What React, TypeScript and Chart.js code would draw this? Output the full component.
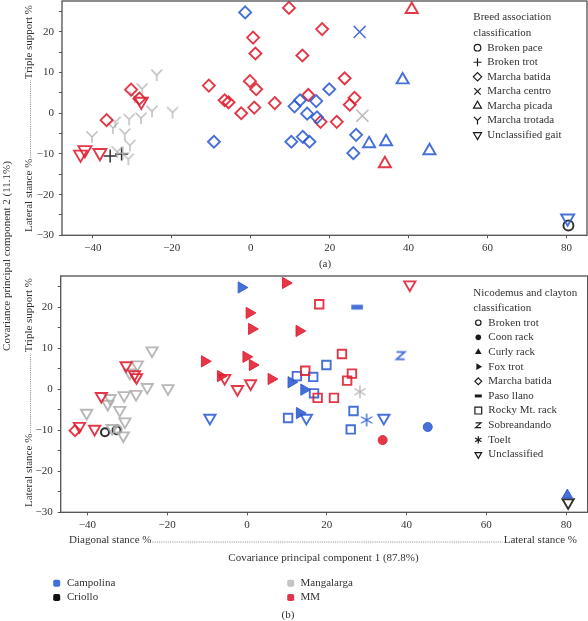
import React, { useEffect, useRef } from "react";
import { Chart, registerables } from "chart.js";
Chart.register(...registerables);

const FONT_FAMILY = '"Liberation Serif", "Times New Roman", serif';
const TEXT_COLOR = "#333333";

// ---------------- data (PCA scores, one entry per horse) ----------------
const pcX = [-1.4, 9.7, 18.1, 27.6, 40.8, 0.6, 1.2, 13.1, 38.5, 23.8, -0.2, 1.4, 19.9, 14.6, 16.6, 12.5, 11.1, 26.3, 25.1, 28.3,
  -6.6, -5.6, -2.4, 0.9, 6.1, 14.3, 16.8, 17.7, 21.8, 26.7, 10.3, 13.2, 14.9, 30.0, 34.3, 26.0, 34.0, 45.3, -10.6, -9.3,
  80.3, 80.5, -30.3, -28.2, -27.7, -36.5, -42.0, -43.1, -38.2, -23.8, -27.5, -29.4, -25.0, -19.8, -27.8, -30.8, -34.3, -34.9,
  -31.9, -40.2, -30.6, -33.8, -31.0, -32.4, -35.6, -32.7];
const pcY = [24.8, 25.9, 20.7, 20.0, 25.5, 18.6, 14.7, 14.2, 8.2, 8.6, 7.9, 5.9, 5.9, 4.5, 3.0, 3.2, 1.7, 3.8, 2.1, -0.6,
  3.2, 2.7, 0.0, 1.4, 2.5, -0.1, -1.0, -2.1, -2.1, -5.3, -7.0, -5.8, -7.0, -7.5, -7.0, -9.8, -12.4, -9.2, 6.8, -7.0,
  -25.8, -27.6, 5.8, 3.6, 2.9, -1.7, -9.0, -10.1, -9.7, 9.4, 6.0, 4.0, 0.5, 0.2, -1.2, -1.5, -2.2, -3.6,
  -5.1, -5.8, -7.9, -9.5, -11.3, -9.8, -10.5, -10.0];
// C = Campolina, K = Criollo, G = Mangalarga, M = MM
const breed = ["C", "M", "M", "C", "M", "M", "M", "M", "C", "M", "M", "M", "C", "M", "C", "C", "C", "M", "M", "G",
  "M", "M", "M", "M", "M", "C", "C", "M", "M", "C", "C", "C", "C", "C", "C", "C", "M", "C", "M", "C",
  "C", "K", "M", "M", "M", "M", "M", "M", "M", "G", "G", "G", "G", "G", "G", "G", "G", "G",
  "G", "G", "G", "G", "G", "G", "K", "K"];
const gaitBreedAssoc = ["MB", "MB", "MB", "MC", "MP", "MB", "MB", "MB", "MP", "MB", "MB", "MB", "MB", "MB", "MB", "MB", "MB", "MB", "MB", "MC",
  "MB", "MB", "MB", "MB", "MB", "MB", "MB", "MB", "MB", "MB", "MB", "MB", "MB", "MP", "MP", "MB", "MP", "MP", "MB", "MB",
  "UG", "BP", "MB", "MB", "UG", "MB", "UG", "UG", "UG", "MT", "MT", "MT", "MT", "MT", "MT", "MT", "MT", "MT",
  "MT", "MT", "MT", "MT", "MT", "BT", "BT", "BT"];
const gaitNicodemus = ["FT", "FT", "RM", "PL", "UN", "FT", "FT", "FT", "SO", "RM", "FT", "FT", "RM", "RM", "RM", "RM", "FT", "RM", "RM", "TO",
  "FT", "UN", "UN", "UN", "FT", "FT", "RM", "RM", "RM", "RM", "RM", "FT", "UN", "TO", "UN", "RM", "CR", "CR", "FT", "UN",
  "CU", "UN", "UN", "UN", "UN", "UN", "UN", "MB", "UN", "UN", "UN", "UN", "UN", "UN", "UN", "UN", "UN", "UN",
  "UN", "UN", "UN", "UN", "UN", "BT", "BT", "BT"];

const breedCodes = ["C", "K", "G", "M"];
const breedLabels = ["Campolina", "Criollo", "Mangalarga", "MM"];
const breedAssocCodes = ["BP", "BT", "MB", "MC", "MP", "MT", "UG"];
const breedAssocLabels = ["Broken pace", "Broken trot", "Marcha batida", "Marcha centro", "Marcha picada", "Marcha trotada", "Unclassified gait"];
const nicodemusCodes = ["BT", "CR", "CU", "FT", "MB", "PL", "RM", "SO", "TO", "UN"];
const nicodemusLabels = ["Broken trot", "Coon rack", "Curly rack", "Fox trot", "Marcha batida", "Paso llano", "Rocky Mt. rack", "Sobreandando", "Toelt", "Unclassified"];

const xTickValues = [-40, -20, 0, 20, 40, 60, 80];
const yTickValues = [-30, -25, -20, -15, -10, -5, 0, 5, 10, 15, 20, 25];

// ---------------- styles ----------------
const breedColor: Record<string, string> = {
  C: "rgba(44,92,210,0.88)",
  K: "rgba(25,25,25,0.9)",
  G: "rgba(172,172,172,0.85)",
  M: "rgba(224,28,48,0.88)",
};
const swatchColor: Record<string, string> = { C: "#3f70d9", K: "#111111", G: "#c4c4c4", M: "#e7334a" };

type Spec = { builtin?: string; img?: string; r: number; rot?: number; fill?: boolean; lw: number; legend: string; ls: number };
const stylesA: Record<string, Spec> = {
  BP: { builtin: "circle", r: 5, lw: 1.9, legend: "circle", ls: 3.3 },
  BT: { builtin: "cross", r: 6.5, lw: 1.5, legend: "plus", ls: 4 },
  MB: { builtin: "rectRot", r: 6, lw: 1.9, legend: "diamond", ls: 4.2 },
  MC: { builtin: "crossRot", r: 8.5, lw: 1.5, legend: "x", ls: 3.2 },
  MP: { builtin: "triangle", r: 7, lw: 1.9, legend: "tri", ls: 4.6 },
  MT: { img: "Y", r: 5.5, lw: 1.4, legend: "Y", ls: 3.6 },
  UG: { builtin: "triangle", rot: 180, r: 7.5, lw: 1.9, legend: "triD", ls: 4.6 },
};
const stylesB: Record<string, Spec> = {
  BT: { builtin: "circle", r: 4, lw: 2, legend: "circle", ls: 2.7 },
  CR: { builtin: "circle", r: 4.5, lw: 1, fill: true, legend: "dot", ls: 2.8 },
  CU: { builtin: "triangle", r: 6, lw: 1, fill: true, legend: "triF", ls: 3.8 },
  FT: { builtin: "triangle", rot: 90, r: 6.5, lw: 1, fill: true, legend: "triR", ls: 3.8 },
  MB: { builtin: "rectRot", r: 5.5, lw: 1.9, legend: "diamond", ls: 3.4 },
  PL: { img: "dash", r: 5.8, lw: 1, legend: "dash", ls: 3.5 },
  RM: { builtin: "rect", r: 6, lw: 1.9, legend: "square", ls: 3.4 },
  SO: { img: "Z", r: 4.8, lw: 1.8, legend: "Z", ls: 3.2 },
  TO: { img: "star", r: 6.5, lw: 1.4, legend: "star", ls: 3.6 },
  UN: { builtin: "triangle", rot: 180, r: 6.5, lw: 1.9, legend: "triD", ls: 3.8 },
};

function drawShape(ctx: CanvasRenderingContext2D, kind: string, x: number, y: number, s: number, color: string, lw: number) {
  ctx.save();
  ctx.strokeStyle = color;
  ctx.fillStyle = color;
  ctx.lineWidth = lw;
  ctx.lineJoin = "miter";
  ctx.beginPath();
  const h = 0.866 * s;
  switch (kind) {
    case "circle": ctx.arc(x, y, s, 0, Math.PI * 2); ctx.stroke(); break;
    case "dot": ctx.arc(x, y, s, 0, Math.PI * 2); ctx.fill(); break;
    case "plus": ctx.moveTo(x - s, y); ctx.lineTo(x + s, y); ctx.moveTo(x, y - s); ctx.lineTo(x, y + s); ctx.stroke(); break;
    case "x": ctx.moveTo(x - s, y - s); ctx.lineTo(x + s, y + s); ctx.moveTo(x + s, y - s); ctx.lineTo(x - s, y + s); ctx.stroke(); break;
    case "diamond": ctx.moveTo(x, y - s); ctx.lineTo(x + s, y); ctx.lineTo(x, y + s); ctx.lineTo(x - s, y); ctx.closePath(); ctx.stroke(); break;
    case "tri": ctx.moveTo(x, y - s); ctx.lineTo(x + h, y + s / 2); ctx.lineTo(x - h, y + s / 2); ctx.closePath(); ctx.stroke(); break;
    case "triF": ctx.moveTo(x, y - s); ctx.lineTo(x + h, y + s / 2); ctx.lineTo(x - h, y + s / 2); ctx.closePath(); ctx.fill(); break;
    case "triD": ctx.moveTo(x, y + s); ctx.lineTo(x + h, y - s / 2); ctx.lineTo(x - h, y - s / 2); ctx.closePath(); ctx.stroke(); break;
    case "triR": ctx.moveTo(x + s, y); ctx.lineTo(x - s / 2, y - h); ctx.lineTo(x - s / 2, y + h); ctx.closePath(); ctx.fill(); break;
    case "Y":
      ctx.moveTo(x - s, y - s); ctx.lineTo(x, y); ctx.lineTo(x + s, y - s);
      ctx.moveTo(x, y); ctx.lineTo(x, y + s * 1.1); ctx.stroke(); break;
    case "dash": ctx.fillRect(x - s, y - s * 0.42, 2 * s, s * 0.84); break;
    case "square": ctx.rect(x - s, y - s, 2 * s, 2 * s); ctx.stroke(); break;
    case "Z":
      ctx.moveTo(x - 0.85 * s, y - 0.75 * s); ctx.lineTo(x + 0.85 * s, y - 0.75 * s);
      ctx.lineTo(x - 0.85 * s, y + 0.75 * s); ctx.lineTo(x + 0.85 * s, y + 0.75 * s); ctx.stroke(); break;
    case "star":
      for (const a of [90, 30, 150]) {
        const r = (a * Math.PI) / 180;
        ctx.moveTo(x - Math.cos(r) * s, y - Math.sin(r) * s);
        ctx.lineTo(x + Math.cos(r) * s, y + Math.sin(r) * s);
      }
      ctx.stroke(); break;
  }
  ctx.restore();
}

function makeImage(kind: string, color: string, s: number, lw: number) {
  const half = Math.ceil(s + lw + 1);
  const c = document.createElement("canvas");
  c.width = half * 2;
  c.height = half * 2;
  const g = c.getContext("2d") as CanvasRenderingContext2D;
  drawShape(g, kind, half, half, s, color, lw);
  return c;
}

function buildDatasets(classes: string[], styles: Record<string, Spec>) {
  const groups = new Map<string, { x: number; y: number }[]>();
  for (let i = 0; i < pcX.length; i++) {
    const key = breed[i] + "|" + classes[i];
    if (!groups.has(key)) groups.set(key, []);
    groups.get(key)!.push({ x: pcX[i], y: pcY[i] });
  }
  const out: any[] = [];
  groups.forEach((data, key) => {
    const [b, c] = key.split("|");
    const st = styles[c];
    const col = breedColor[b];
    const pointStyle = st.img ? makeImage(st.img, col, st.r, st.lw) : st.builtin;
    out.push({
      label: key,
      data,
      pointStyle,
      pointRadius: st.r,
      pointHoverRadius: st.r,
      pointRotation: st.rot || 0,
      pointBorderWidth: st.lw,
      pointBorderColor: col,
      pointBackgroundColor: st.fill ? col : "rgba(0,0,0,0)",
      clip: false,
    });
  });
  return out;
}

const fmt = (v: number) => (v < 0 ? "\u2212" + Math.abs(v) : String(v));

function makeScales(xMin: number, xMax: number, yMin: number, yMax: number, yWidth: number) {
  const tickFont = { family: FONT_FAMILY, size: 11 };
  return {
    x: {
      type: "linear",
      min: xMin,
      max: xMax,
      afterBuildTicks: (s: any) => { s.ticks = xTickValues.map((v) => ({ value: v })); },
      afterFit: (s: any) => { s.height = 30; s.paddingLeft = 0; s.paddingRight = 0; },
      ticks: { font: tickFont, color: TEXT_COLOR, padding: 3, maxRotation: 0, autoSkip: false, callback: (v: any) => fmt(Number(v)) },
      grid: { drawOnChartArea: false, drawTicks: true, tickLength: 3, color: "#555", lineWidth: 1 },
      border: { display: false },
    },
    y: {
      type: "linear",
      min: yMin,
      max: yMax,
      afterBuildTicks: (s: any) => { s.ticks = yTickValues.map((v) => ({ value: v })); },
      afterFit: (s: any) => { s.width = yWidth; s.paddingTop = 0; s.paddingBottom = 0; },
      ticks: { font: tickFont, color: TEXT_COLOR, padding: 5, autoSkip: false, callback: (v: any) => (Number(v) % 10 === 0 ? fmt(Number(v)) : "") },
      grid: { drawOnChartArea: false, drawTicks: true, tickLength: 3, color: "#555", lineWidth: 1 },
      border: { display: false },
    },
  };
}

const font11 = `11px ${FONT_FAMILY}`;

function dotted(ctx: CanvasRenderingContext2D, x1: number, y1: number, x2: number, y2: number) {
  ctx.save();
  ctx.strokeStyle = "#6a6a6a";
  ctx.lineWidth = 0.8;
  ctx.setLineDash([1, 1.2]);
  ctx.beginPath();
  ctx.moveTo(x1, y1);
  ctx.lineTo(x2, y2);
  ctx.stroke();
  ctx.restore();
}

function vTitle(ctx: CanvasRenderingContext2D, xBase: number, yBottom: number, yTop: number, bottomText: string, topText: string) {
  ctx.save();
  ctx.translate(xBase, yBottom);
  ctx.rotate(-Math.PI / 2);
  ctx.font = font11;
  ctx.fillStyle = TEXT_COLOR;
  ctx.textAlign = "left";
  ctx.textBaseline = "alphabetic";
  const L = yBottom - yTop;
  const wb = ctx.measureText(bottomText).width;
  const wt = ctx.measureText(topText).width;
  ctx.fillText(bottomText, 0, 0);
  ctx.fillText(topText, L - wt, 0);
  dotted(ctx, wb + 1, -1.5, L - wt - 1, -1.5);
  ctx.restore();
}

function frame(chart: any) {
  const { ctx, chartArea: a } = chart;
  ctx.save();
  ctx.strokeStyle = "#505050";
  ctx.lineWidth = 1.3;
  ctx.strokeRect(a.left, a.top, a.right - a.left, a.bottom - a.top);
  ctx.restore();
}

function text(ctx: CanvasRenderingContext2D, s: string, x: number, y: number, align: CanvasTextAlign, baseline: CanvasTextBaseline) {
  ctx.save();
  ctx.font = font11;
  ctx.fillStyle = TEXT_COLOR;
  ctx.textAlign = align;
  ctx.textBaseline = baseline;
  ctx.fillText(s, x, y);
  ctx.restore();
}

const plotA = {
  id: "panelA",
  afterDraw(chart: any) {
    const ctx = chart.ctx as CanvasRenderingContext2D;
    frame(chart);
    vTitle(ctx, 32, 232, 5, "Lateral stance %", "Triple support %");
    // shared y title
    ctx.save();
    ctx.translate(9.5, 256);
    ctx.rotate(-Math.PI / 2);
    ctx.font = font11;
    ctx.fillStyle = TEXT_COLOR;
    ctx.textAlign = "center";
    ctx.textBaseline = "alphabetic";
    ctx.fillText("Covariance principal component 2 (11.1%)", 0, 0);
    ctx.restore();
    text(ctx, "(a)", 325, 264.5, "center", "middle");
    text(ctx, "Breed association", 473.3, 17.3, "left", "middle");
    text(ctx, "classification", 473.3, 33.3, "left", "middle");
    breedAssocCodes.forEach((c, i) => {
      const y = 47.7 + i * 14.55;
      const st = stylesA[c];
      drawShape(ctx, st.legend, 477.5, y, st.ls, "#1a1a1a", 1.2);
      text(ctx, breedAssocLabels[i], 487.3, y, "left", "middle");
    });
  },
};

const plotB = {
  id: "panelB",
  afterDraw(chart: any) {
    const ctx = chart.ctx as CanvasRenderingContext2D;
    frame(chart);
    vTitle(ctx, 32, 507, 278, "Lateral stance %", "Triple support %");
    ctx.save();
    ctx.font = font11;
    const wl = ctx.measureText("Diagonal stance %").width;
    const wr = ctx.measureText("Lateral stance %").width;
    ctx.restore();
    text(ctx, "Diagonal stance %", 69, 543, "left", "alphabetic");
    text(ctx, "Lateral stance %", 577, 543, "right", "alphabetic");
    dotted(ctx, 69 + wl + 1, 542, 577 - wr - 1, 542);
    text(ctx, "Covariance principal component 1 (87.8%)", 323.5, 561, "center", "alphabetic");
    text(ctx, "Nicodemus and clayton", 473.3, 293.3, "left", "middle");
    text(ctx, "classification", 473.3, 308.3, "left", "middle");
    nicodemusCodes.forEach((c, i) => {
      const y = 322.7 + i * 14.65;
      const st = stylesB[c];
      drawShape(ctx, st.legend, 478.3, y, st.ls, "#1a1a1a", 1.2);
      text(ctx, nicodemusLabels[i], 488.3, y, "left", "middle");
    });
    // breed colour legend
    const pos = [
      [56.7, 583.3, 67],
      [56.7, 597.6, 67],
      [290.7, 583.3, 300.5],
      [290.7, 597.6, 300.5],
    ];
    breedCodes.forEach((b, i) => {
      const [sx, sy, tx] = pos[i];
      ctx.save();
      ctx.fillStyle = swatchColor[b];
      ctx.beginPath();
      (ctx as any).roundRect ? (ctx as any).roundRect(sx - 3.5, sy - 3.5, 7, 7, 1.8) : ctx.rect(sx - 3.5, sy - 3.5, 7, 7);
      ctx.fill();
      ctx.restore();
      text(ctx, breedLabels[i], tx, sy, "left", "middle");
    });
    text(ctx, "(b)", 288, 615, "center", "middle");
  },
};

export default function App() {
  const refA = useRef<HTMLCanvasElement>(null);
  const refB = useRef<HTMLCanvasElement>(null);

  useEffect(() => {
    const common = {
      responsive: false,
      maintainAspectRatio: false,
      animation: false,
      events: [],
      plugins: { legend: { display: false }, tooltip: { enabled: false } },
    };
    const chartA = new Chart(refA.current as HTMLCanvasElement, {
      type: "scatter",
      data: { datasets: buildDatasets(gaitBreedAssoc, stylesA) },
      options: {
        ...common,
        layout: { autoPadding: false, padding: { left: 0, top: 1, right: 1, bottom: 621 - 235.3 - 30 } },
        scales: makeScales(-47.8, 85.2, -30, 27.6, 62),
      } as any,
      plugins: [plotA],
    });
    const chartB = new Chart(refB.current as HTMLCanvasElement, {
      type: "scatter",
      data: { datasets: buildDatasets(gaitNicodemus, stylesB) },
      options: {
        ...common,
        layout: { autoPadding: false, padding: { left: 0, top: 276, right: 0.3, bottom: 621 - 512.3 - 30 } },
        scales: makeScales(-46.7, 85.4, -30, 27.6, 60.7),
      } as any,
      plugins: [plotB],
    });
    return () => {
      chartA.destroy();
      chartB.destroy();
    };
  }, []);

  return (
    <div style={{ position: "absolute", left: 0, top: 0, width: 588, height: 621, background: "#ffffff" }}>
      <canvas ref={refA} width={588} height={621} style={{ position: "absolute", left: 0, top: 0, width: 588, height: 621 }} />
      <canvas ref={refB} width={588} height={621} style={{ position: "absolute", left: 0, top: 0, width: 588, height: 621 }} />
    </div>
  );
}
